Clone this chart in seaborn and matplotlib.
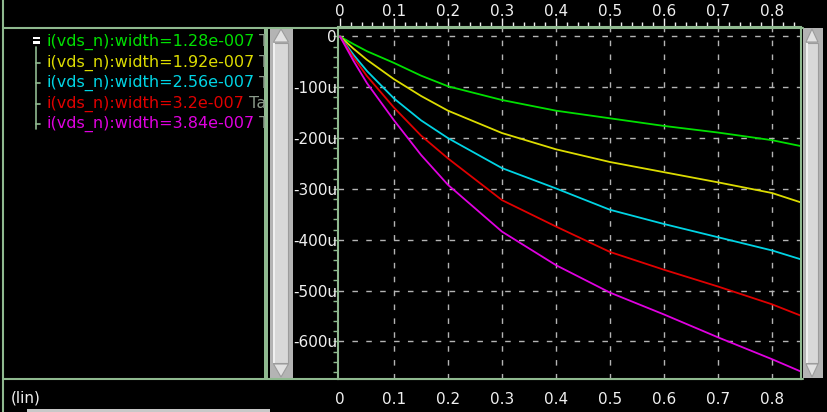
import pandas as pd
import matplotlib
matplotlib.use("Agg")
import matplotlib.pyplot as plt
from matplotlib.patches import Rectangle, Polygon
from matplotlib.ticker import MultipleLocator, FuncFormatter
import seaborn as sns

# ----------------------------
# Data (vds in V, current in uA)
# ----------------------------
vds = [0, 0.025, 0.05, 0.1, 0.15, 0.2, 0.3, 0.4, 0.5, 0.6, 0.7, 0.8, 0.855]
i_w128 = [0, -15, -29, -52, -77, -98, -125, -146, -161, -176, -189, -204, -216]
i_w192 = [0, -24, -46, -84, -117, -146, -190, -222, -247, -267, -287, -308, -327]
i_w256 = [0, -36, -68, -122, -165, -200, -259, -299, -341, -369, -395, -421, -439]
i_w320 = [0, -41, -78, -140, -195, -240, -322, -374, -424, -459, -492, -527, -550]
i_w384 = [0, -48, -92, -165, -233, -292, -384, -450, -504, -547, -592, -635, -660]

widths = ["1.28e-007", "1.92e-007", "2.56e-007", "3.2e-007", "3.84e-007"]
colors = ["#00e000", "#dcdc00", "#00d4e4", "#e00000", "#e000e0"]
x_ticks = [0, 0.1, 0.2, 0.3, 0.4, 0.5, 0.6, 0.7, 0.8]

labels = ["i(vds_n):width=" + w for w in widths]
rows = []
for lab, ys in zip(labels, [i_w128, i_w192, i_w256, i_w320, i_w384]):
    for x, y in zip(vds, ys):
        rows.append({"vds": x, "i": y, "trace": lab})
df = pd.DataFrame(rows)

sns.set_style("dark")
plt.rcParams["font.family"] = ["DejaVu Sans"]

W, H = 828, 412
fig = plt.figure(figsize=(W / 100, H / 100), dpi=100, facecolor="black")

def px_axes(x0, y0, x1, y1):
    return [x0 / W, 1 - y1 / H, (x1 - x0) / W, (y1 - y0) / H]

border = "#8fb98f"
txt = "#f0f0f0"

# background layer in pixel coordinates
bg = fig.add_axes([0, 0, 1, 1], zorder=0)
bg.set_xlim(0, W)
bg.set_ylim(H, 0)
bg.axis("off")
bg.set_facecolor("black")

bg.plot([3, 3], [0, 412], color=border, lw=1.5)
bg.plot([3, 803], [27.5, 27.5], color=border, lw=1.5)
bg.plot([3, 803], [378.5, 378.5], color=border, lw=1.5)
bg.add_patch(Rectangle((264.5, 27.5), 3.5, 351, fc=border, ec="none"))
bg.add_patch(Rectangle((27, 408.5), 243, 3.5, fc="#c8c8c8", ec="none"))


def scrollbar(x0, x1, y0, y1):
    bg.add_patch(Rectangle((x0, y0), x1 - x0, y1 - y0, fc="#b4b4b4", ec="none"))
    bg.add_patch(Rectangle((x0 + 3, y0 + 15), x1 - x0 - 8, y1 - y0 - 30,
                           fc="#d8d8d8", ec="#9c9c9c", lw=0.8))
    bg.add_patch(Rectangle((x0 + 3, y0 + 15), 2, y1 - y0 - 30, fc="#f0f0f0", ec="none"))
    cx = (x0 + x1) / 2 - 1
    bg.add_patch(Polygon([[cx, y0 + 1], [x0 + 3, y0 + 14], [x1 - 5, y0 + 14]],
                         fc="#e2e2e2", ec="#9c9c9c", lw=0.8))
    bg.add_patch(Polygon([[cx, y1 - 1], [x0 + 3, y1 - 14], [x1 - 5, y1 - 14]],
                         fc="#e2e2e2", ec="#9c9c9c", lw=0.8))


scrollbar(270.5, 293.5, 28, 378)
scrollbar(803, 823, 28, 378)

bg.text(11, 398, "(lin)", color=txt, fontsize=11, va="center", ha="left")

# legend panel (tree of traces)
leg = fig.add_axes(px_axes(4, 28.5, 264.5, 377.5), zorder=1)
leg.set_xlim(4, 264.5)
leg.set_ylim(377.5, 28.5)
leg.axis("off")
row_y = [42, 62.5, 83, 103.5, 124]
leg.add_patch(Rectangle((33, 37), 6.5, 2.2, fc="white", ec="none"))
leg.add_patch(Rectangle((33, 41.3), 6.5, 2.2, fc="white", ec="none"))
leg.plot([36, 36], [47, 129], color=border, lw=1.2)
for lab, col, y in zip(labels, colors, row_y):
    if y > 50:
        leg.plot([36, 40], [y, y], color=border, lw=1.2)
    t = leg.text(46, y, lab, color=col, fontsize=11.5, va="center", ha="left")
    t.set_clip_box(leg.bbox)
    t.set_clip_on(True)
    tail = leg.annotate(" Ta", xy=(1, 0.5), xycoords=t, va="center", ha="left",
                        color="#8a9a8a", fontsize=11.5, annotation_clip=False)
    tail.set_clip_box(leg.bbox)
    tail.set_clip_on(True)

# main waveform axes
ax = fig.add_axes(px_axes(338.5, 27.5, 801, 378.5), zorder=2)
ax.set_facecolor("black")
sns.lineplot(data=df, x="vds", y="i", hue="trace", palette=dict(zip(labels, colors)),
             legend=False, lw=1.3, ax=ax)
ax.set_xlim(-0.0028, 0.8537)
ax.set_ylim(-673, 17.7)
ax.set_xlabel("")
ax.set_ylabel("")

xfmt = FuncFormatter(lambda v, p: "0" if abs(v) < 1e-9 else f"{v:.1f}")
ax.set_xticks(x_ticks)
ax.xaxis.set_minor_locator(MultipleLocator(0.02))
ax.xaxis.set_major_formatter(xfmt)
ax.yaxis.set_major_locator(MultipleLocator(100))
ax.yaxis.set_minor_locator(MultipleLocator(20))
ax.yaxis.set_major_formatter(FuncFormatter(lambda v, p: "0" if abs(v) < 1e-9 else f"{v:.0f}u"))

ax.tick_params(axis="x", which="both", direction="out", colors=txt, labelsize=11)
ax.tick_params(axis="x", which="major", length=6.5, width=1, pad=3.3)
ax.tick_params(axis="x", which="minor", length=3.6, width=1)
ax.tick_params(axis="y", which="both", left=True, direction="out", length=3.6,
               width=1, color=border, labelcolor=txt, labelsize=11, pad=-2.5)

# top copy of the x axis
top = ax.secondary_xaxis("top")
top.set_xticks(x_ticks)
top.xaxis.set_minor_locator(MultipleLocator(0.02))
top.xaxis.set_major_formatter(xfmt)
top.tick_params(axis="x", which="both", direction="out", colors=txt, labelsize=11)
top.tick_params(axis="x", which="major", length=6.5, width=1, pad=-0.7)
top.tick_params(axis="x", which="minor", length=3.6, width=1)
top.spines["top"].set_color(border)
top.spines["top"].set_linewidth(1.5)

ax.grid(True, which="major", color="#b4b4b4", linestyle=(0, (4, 6)), lw=1)
ax.xaxis.get_major_ticks()[0].gridline.set_visible(False)
for s in ax.spines.values():
    s.set_color(border)
    s.set_linewidth(1.5)

fig.savefig("out.png", dpi=100, facecolor="black")
